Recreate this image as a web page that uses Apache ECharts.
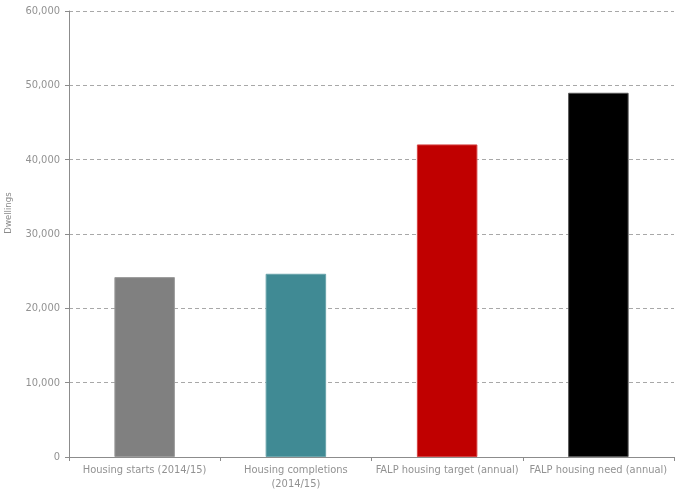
<!DOCTYPE html>
<html>
<head>
<meta charset="utf-8">
<script src="https://cdn.jsdelivr.net/npm/echarts@6/dist/echarts.min.js"></script>
<style>
html,body{margin:0;padding:0;background:#fff;}
#c{width:681px;height:490px;}
</style>
</head>
<body>
<div id="c"></div>
<script>
const categories = ["Housing starts (2014/15)", "Housing completions\n(2014/15)", "FALP housing target (annual)", "FALP housing need (annual)"];
const values = [24200, 24650, 42050, 49000];
const barColors = ["#808080", "#408A94", "#C00000", "#000000"];
const barBorders = ["#9a9a9a", "#6aa4ab", "#d44040", "#555555"];
const yTicks = [0, 10000, 20000, 30000, 40000, 50000, 60000];

const FONT = "'DejaVu Sans Condensed', 'Liberation Sans Narrow', sans-serif";
const chart = echarts.init(document.getElementById('c'));
chart.setOption({
  animation: false,
  backgroundColor: '#fff',
  grid: {left: 69, right: 7, top: 11, bottom: 33, containLabel: false, outerBoundsMode: 'none'},
  xAxis: {
    type: 'category',
    data: categories,
    axisLine: {lineStyle: {color: '#8c8c8c', width: 1}},
    axisTick: {show: true, length: 4, lineStyle: {color: '#8c8c8c'}},
    axisLabel: {color: '#929292', fontFamily: FONT, fontSize: 11, margin: 6, lineHeight: 14, interval: 0}
  },
  yAxis: {
    type: 'value',
    min: yTicks[0],
    max: yTicks[yTicks.length - 1],
    interval: 10000,
    name: 'Dwellings',
    nameLocation: 'middle',
    nameRotate: 90,
    nameGap: 55,
    nameTextStyle: {color: '#8a8a8a', fontFamily: FONT, fontSize: 9.5, padding: [0, 0, 0, 42]},
    axisLine: {show: true, lineStyle: {color: '#8c8c8c', width: 1}},
    axisTick: {show: true, length: 4, lineStyle: {color: '#8c8c8c'}},
    axisLabel: {
      color: '#929292', fontFamily: FONT, fontSize: 11, margin: 9,
      formatter: v => v.toLocaleString('en-US')
    },
    splitLine: {show: true, lineStyle: {color: '#a8a8a8', type: [4, 3], width: 1}}
  },
  series: [{
    type: 'bar',
    barWidth: '40%',
    data: values.map((v, i) => ({
      value: v,
      itemStyle: {color: barColors[i], borderColor: barBorders[i], borderWidth: 1}
    }))
  }]
});
</script>
</body>
</html>
